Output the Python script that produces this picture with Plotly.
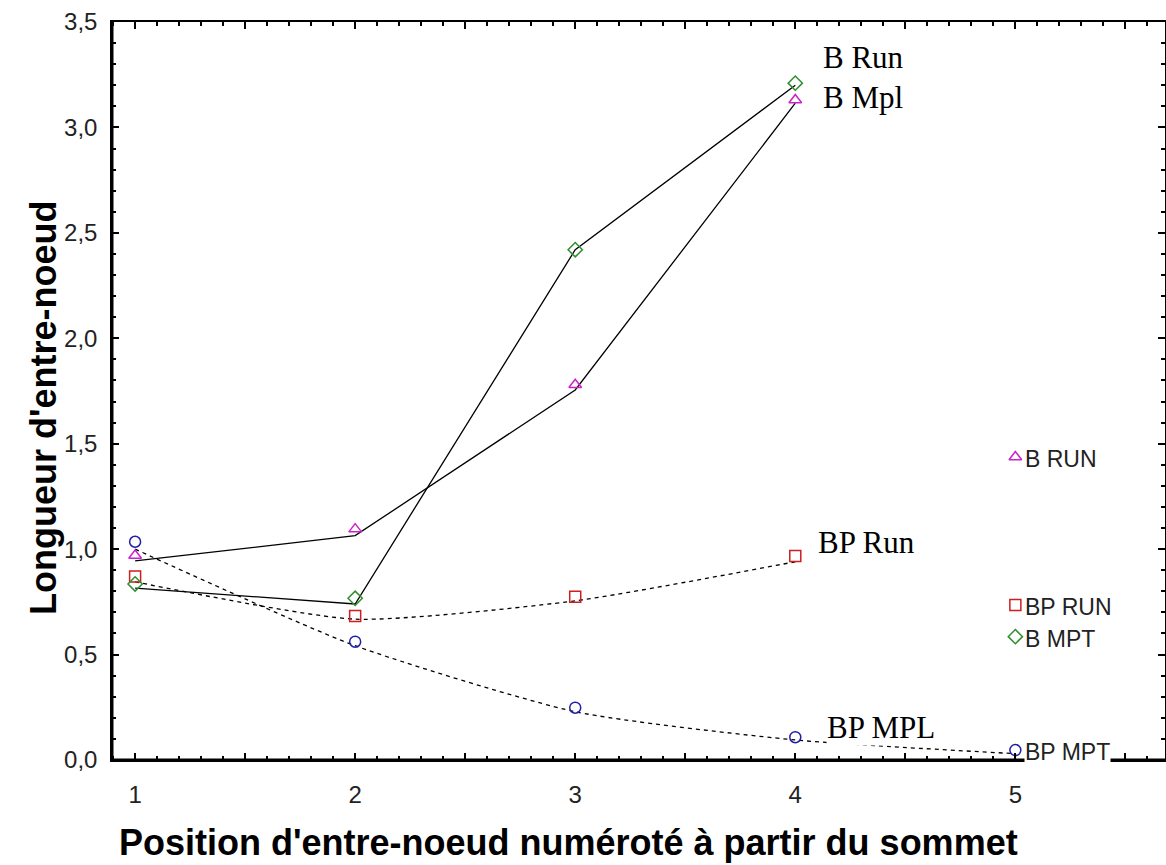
import plotly.graph_objects as go

# ---- data ----
positions = [1, 2, 3, 4, 5]
series_names = ["B RUN", "BP RUN", "B MPT", "BP MPT"]
b_run = [0.97, 1.095, 1.78, 3.13, 1.437]
bp_run = [0.87, 0.683, 0.774, 0.967, 0.735]
b_mpt = [0.835, 0.767, 2.42, 3.21, 0.585]
bp_mpt = [1.035, 0.561, 0.248, 0.108, 0.047]

# fitted curves drawn through the points
fit_x = [1, 2, 3, 4]
fit_b_run = [0.944, 1.064, 1.755, 3.115]
fit_b_mpt = [0.815, 0.74, 2.42, 3.20]
fit_bp_run = [0.845, 0.668, 0.755, 0.94]
fit_x_bp_mpt = [1, 2, 3, 4, 5]
fit_bp_mpt = [1.0, 0.542, 0.229, 0.095, 0.03]

# hand-written labels (Times) : text, x, y
note_texts = ["B Run", "B Mpl", "BP Run", "BP MPL"]
note_x = [4.12, 4.12, 4.1, 4.14]
note_y = [3.33, 3.14, 1.03, 0.156]

x_tick_vals = [1, 1.5, 2, 2.5, 3, 3.5, 4, 4.5, 5, 5.5]
x_tick_text = ["1", "", "2", "", "3", "", "4", "", "5", ""]
y_tick_vals = [0, 0.5, 1.0, 1.5, 2.0, 2.5, 3.0, 3.5]

x_title = "Position d'entre-noeud numéroté à partir du sommet"
y_title = "Longueur d'entre-noeud"

fig = go.Figure()

line_style = dict(color="black", width=1.3)
fig.add_trace(go.Scatter(x=fit_x, y=fit_b_run, mode="lines", line=line_style, hoverinfo="skip"))
fig.add_trace(go.Scatter(x=fit_x, y=fit_b_mpt, mode="lines", line=line_style, hoverinfo="skip"))
fig.add_trace(go.Scatter(x=fit_x, y=fit_bp_run, mode="lines",
                         line=dict(color="black", width=1.3, dash="4px,4px", shape="spline", smoothing=0.6),
                         hoverinfo="skip"))
fig.add_trace(go.Scatter(x=fit_x_bp_mpt, y=fit_bp_mpt, mode="lines",
                         line=dict(color="black", width=1.3, dash="4px,4px", shape="spline", smoothing=0.6),
                         hoverinfo="skip"))

markers = [
    (b_run, "triangle-up-open", "#cc22cc"),
    (bp_run, "square-open", "#cc1f1f"),
    (b_mpt, "diamond-open", "#2f8f2f"),
    (bp_mpt, "circle-open", "#1f1fa8"),
]
for vals, sym, col in markers:
    fig.add_trace(go.Scatter(x=positions, y=vals, mode="markers",
                             marker=dict(symbol=sym, size=11, color=col, line=dict(width=1.5, color=col))))

annotations = []
# series labels beside the x=5 points
series_vals = [b_run, bp_run, b_mpt, bp_mpt]
for name, vals in zip(series_names, series_vals):
    annotations.append(dict(x=positions[-1], y=vals[-1], text=name, showarrow=False,
                            xanchor="left", yanchor="middle", xshift=9, yshift=-2,
                            font=dict(family="Liberation Sans, Arial", size=23, color="#222"),
                            bgcolor="white", borderpad=0))
for t, xx, yy in zip(note_texts, note_x, note_y):
    annotations.append(dict(x=xx, y=yy, text=t, showarrow=False, xanchor="left", yanchor="middle",
                            font=dict(family="Liberation Serif, Times New Roman", size=31, color="black"),
                            bgcolor="white", borderpad=0))
# axis titles
annotations.append(dict(x=0.4335, y=0, xref="paper", yref="paper", text=x_title, showarrow=False,
                        xanchor="center", yanchor="middle", yshift=-82,
                        font=dict(family="Liberation Sans, Arial", size=36, color="black", weight="bold")))
annotations.append(dict(x=0, y=0.477, xref="paper", yref="paper", text=y_title, showarrow=False,
                        textangle=-90, xanchor="center", yanchor="middle", xshift=-68,
                        font=dict(family="Liberation Sans, Arial", size=36, color="black", weight="bold")))

fig.update_layout(
    width=1166, height=865,
    margin=dict(l=112, r=1, t=22, b=105),
    plot_bgcolor="white", paper_bgcolor="white",
    showlegend=False,
    separators=", ",
    annotations=annotations,
    xaxis=dict(
        range=[0.895, 5.68], tickvals=x_tick_vals, ticktext=x_tick_text,
        ticks="inside", ticklen=7, tickwidth=2, tickcolor="black",
        minor=dict(dtick=0.1, ticks="inside", ticklen=4, tickwidth=1.5, tickcolor="black"),
        showline=True, linecolor="black", linewidth=1.5, mirror="ticks",
        showgrid=False, zeroline=False, automargin=False,
        tickfont=dict(family="Liberation Sans, Arial", size=24, color="#222"),
        ticklabelstandoff=12,
    ),
    yaxis=dict(
        range=[0, 3.5], tickvals=y_tick_vals, tickformat=".1f",
        ticks="inside", ticklen=7, tickwidth=2, tickcolor="black",
        minor=dict(dtick=0.1, ticks="inside", ticklen=4, tickwidth=1.5, tickcolor="black"),
        showline=True, linecolor="black", linewidth=1.5, mirror="ticks",
        showgrid=False, zeroline=False, automargin=False,
        tickfont=dict(family="Liberation Sans, Arial", size=24, color="#222"),
        ticklabelstandoff=8,
    ),
    shapes=[
        dict(type="line", xref="paper", yref="paper", x0=0, x1=0, y0=0, y1=1,
             line=dict(color="black", width=3)),
        dict(type="line", xref="paper", yref="paper", x0=0, x1=1, y0=0, y1=0,
             line=dict(color="black", width=3)),
    ],
)

fig.write_html("out.html", config={"displayModeBar": False},
               post_script="document.body.style.margin='0';")
